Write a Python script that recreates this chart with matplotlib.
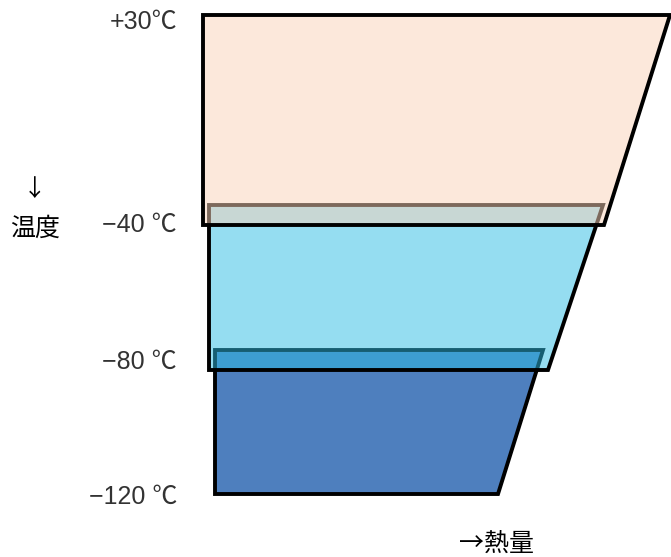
import matplotlib
matplotlib.use("Agg")
import matplotlib.pyplot as plt
from matplotlib.patches import Polygon
from matplotlib import font_manager

# ---- data (chart units: x = heat, y = depth/temperature position) ----
temp_labels = ["+30℃", "−40 ℃", "−80 ℃", "−120 ℃"]
temp_pos = [22, 225, 362, 497]

band_top = [15, 205, 350]
band_bottom = [225, 370, 494]
band_left = [203, 209, 215]
band_top_right = [670, 603, 543]
band_bottom_right = [604, 548, 498]
band_colors = [(251/255, 211/255, 185/255, 0.5),
               (45/255, 189/255, 229/255, 0.5),
               (78/255, 127/255, 190/255, 1.0)]

names = {f.name for f in font_manager.fontManager.ttflist}
narrow = "Liberation Sans Narrow" if "Liberation Sans Narrow" in names else "Liberation Sans"
label_family = [narrow, "Noto Sans CJK JP", "DejaVu Sans"]
cjk_family = ["Noto Sans CJK JP", "DejaVu Sans"]

fig = plt.figure(figsize=(6.71, 5.57), dpi=100)
ax = fig.add_axes([0, 0, 1, 1])
ax.set_xlim(0, 671)
ax.set_ylim(557, 0)
ax.axis("off")

# draw bottom band first, upper bands over it (translucent fills)
for i in reversed(range(len(band_top))):
    pts = [(band_left[i], band_top[i]), (band_top_right[i], band_top[i]),
           (band_bottom_right[i], band_bottom[i]), (band_left[i], band_bottom[i])]
    ax.add_patch(Polygon(pts, closed=True, facecolor=band_colors[i],
                         edgecolor="black", linewidth=2.8, joinstyle="miter",
                         zorder=2 + (len(band_top) - i)))

for lab, y in zip(temp_labels, temp_pos):
    ax.text(177, y, lab, ha="right", va="center", fontsize=18,
            color="#333333", family=label_family)

ax.text(35, 190, "↓", ha="center", va="center", fontsize=17, color="black",
        family=cjk_family)
ax.text(35, 229, "温度", ha="center", va="center", fontsize=18, color="black",
        family=cjk_family)
ax.text(497, 544, "→熱量", ha="center", va="center", fontsize=18, color="black",
        family=cjk_family)

fig.savefig("out.png", dpi=100)
